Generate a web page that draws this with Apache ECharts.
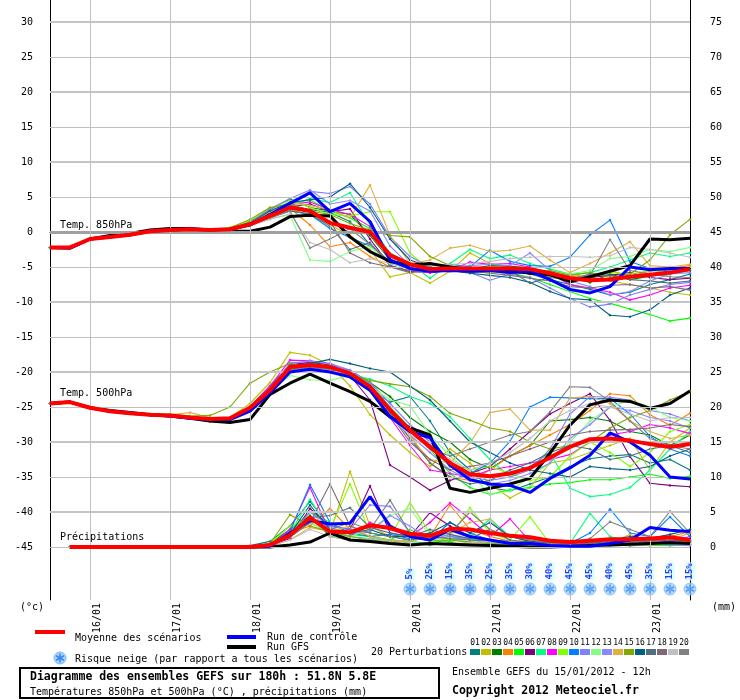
<!DOCTYPE html>
<html>
<head>
<meta charset="utf-8">
<script src="https://cdn.jsdelivr.net/npm/echarts@6/dist/echarts.min.js"></script>
<style>
  html, body { margin: 0; padding: 0; background: #fff; }
  #chart { width: 740px; height: 700px; }
</style>
</head>
<body>
<div id="chart"></div>
<script>
// hours since 15/01/2012 12h
const HOURS = [0,6,12,18,24,30,36,42,48,54,60,66,72,78,84,90,96,102,108,114,120,126,132,138,144,150,156,162,168,174,180,186,192];
const DAY_TICKS = [12,36,60,84,108,132,156,180];
const DAY_LABELS = ['16/01','17/01','18/01','19/01','20/01','21/01','22/01','23/01'];
const TEMP_TICKS = [-45,-40,-35,-30,-25,-20,-15,-10,-5,0,5,10,15,20,25,30];
const MM_TICKS = [0,5,10,15,20,25,30,35,40,45,50,55,60,65,70,75];
const MEMBER_NAMES = ['01','02','03','04','05','06','07','08','09','10','11','12','13','14','15','16','17','18','19','20'];
const MEMBER_COLORS = ['#008080','#c0c000','#008000','#ff8000','#00ff00','#800080','#00ff80','#ff00ff','#80ff00','#0080ff',
  '#8080ff','#80ff80','#8888ff','#e0b040','#80a800','#006080','#507080','#806878','#c0c0c0','#808080'];

// Temperature 850 hPa (°C)
const t850Mean = [-2.2,-2.2,-1.0,-0.7,-0.4,0.1,0.3,0.4,0.3,0.4, 1.1,2.3,3.5,3.0,1.3,0.6,0.0,-3.3,-4.6,-5.3, -5.2,-5.2,-5.2,-5.2,-5.3,-5.9,-6.6,-6.9,-6.8,-6.4, -6.1,-5.8,-5.3];
const t850Control = [-2.2,-2.3,-1.0,-0.7,-0.4,0.1,0.3,0.4,0.3,0.4, 1.0,2.5,4.1,5.6,2.9,4.1,1.5,-4.0,-5.2,-5.6, -5.5,-5.6,-5.5,-5.8,-5.6,-6.8,-8.2,-8.7,-7.8,-5.0, -5.4,-5.2,-5.2];
const t850Gfs = [-2.2,-2.3,-1.0,-0.5,-0.2,0.3,0.5,0.5,0.3,0.1, 0.1,0.7,2.2,2.4,2.3,-0.7,-2.8,-4.2,-4.7,-4.5, -5.0,-5.4,-5.4,-5.5,-5.9,-6.1,-7.1,-6.4,-5.6,-4.8, -1.0,-1.1,-0.9];
const t850Members = [
  [-2.2,-2.2,-1.1,-0.8,-0.3,0.2,0.3,0.4,0.2,0.5, 1.2,2.6,3.8,3.2,2.8,1.5,-1.8,-4.5,-5.2,-5.6, -5.4,-5.8,-5.6,-5.3,-6.0,-6.8,-7.5,-8.2,-9.0,-8.6, -7.5,-6.8,-6.0],
  [-2.2,-2.3,-1.0,-0.6,-0.4,0.0,0.2,0.6,0.3,0.4, 0.9,2.0,3.2,2.5,1.0,-0.5,-2.5,-6.4,-5.8,-7.3, -5.6,-3.0,-4.5,-5.0,-5.5,-6.2,-6.0,-6.5,-7.0,-7.5, -8.0,-8.6,-9.0],
  [-2.3,-2.2,-1.0,-0.7,-0.5,0.1,0.4,0.5,0.3,0.4, 1.5,3.2,4.7,3.5,3.0,2.5,-0.5,-4.0,-5.0,-5.2, -5.0,-5.3,-4.8,-4.9,-5.1,-5.8,-6.5,-7.2,-6.0,-6.8, -6.3,-6.0,-5.5],
  [-2.2,-2.2,-1.1,-0.8,-0.5,-0.1,0.3,0.2,0.2,0.3, 1.0,2.2,3.4,1.0,-2.1,-1.5,-3.5,-5.0,-5.5,-5.7, -5.5,-5.3,-5.1,-5.6,-5.8,-6.0,-6.3,-6.6,-5.5,-6.3, -5.6,-5.2,-4.8],
  [-2.2,-2.2,-1.0,-0.7,-0.4,0.2,0.3,0.4,0.3,0.5, 1.3,2.8,4.0,4.6,3.0,2.0,0.5,-3.5,-5.0,-5.5, -5.6,-5.4,-5.5,-5.8,-6.5,-7.5,-8.5,-9.5,-10.2,-11.0, -11.8,-12.7,-12.3],
  [-2.2,-2.2,-1.0,-0.6,-0.4,0.1,0.3,0.4,0.3,0.4, 1.2,2.6,3.6,4.0,2.9,3.3,-1.0,-4.8,-5.6,-5.8, -5.5,-5.2,-5.4,-5.0,-5.6,-6.2,-7.0,-6.5,-6.2,-5.8, -6.5,-6.8,-6.6],
  [-2.2,-2.2,-1.0,-0.7,-0.4,0.1,0.3,0.4,0.3,0.4, 1.1,2.4,3.8,4.8,4.2,5.6,1.0,-3.0,-4.5,-6.6, -4.5,-2.5,-3.8,-3.3,-4.5,-5.3,-6.0,-5.8,-5.0,-4.0, -3.0,-3.5,-3.0],
  [-2.2,-2.2,-1.0,-0.7,-0.3,0.1,0.4,0.3,0.3,0.4, 1.2,2.5,3.9,4.3,3.2,2.5,0.8,-3.8,-5.5,-5.8, -5.5,-4.3,-4.6,-4.5,-5.0,-6.0,-7.5,-8.0,-8.6,-9.7, -9.0,-8.0,-7.6],
  [-2.2,-2.2,-1.0,-0.7,-0.4,0.1,0.3,0.5,0.4,0.6, 1.6,3.4,4.5,3.5,2.5,2.3,2.9,2.9,-3.0,-5.5, -5.0,-5.5,-5.8,-5.4,-5.6,-6.3,-6.8,-6.5,-5.8,-6.0, -5.5,-5.8,-5.0],
  [-2.2,-2.2,-1.0,-0.7,-0.4,0.1,0.3,0.4,0.3,0.4, 1.0,2.2,3.0,2.5,0.5,-0.8,-2.0,-4.3,-5.0,-4.8, -4.6,-5.0,-2.6,-4.2,-4.8,-4.9,-3.6,-0.4,1.7,-4.2, -5.2,-5.6,-5.4],
  [-2.2,-2.2,-1.0,-0.7,-0.4,0.1,0.3,0.4,0.3,0.4, 1.3,3.0,4.3,5.8,5.5,6.5,4.0,-0.7,-3.5,-5.0, -5.5,-5.8,-6.9,-6.0,-6.5,-8.0,-9.5,-10.7,-10.3,-9.0, -8.2,-7.5,-7.2],
  [-2.2,-2.2,-1.0,-0.7,-0.4,0.1,0.3,0.4,0.3,0.4, 1.0,2.0,2.4,-4.0,-4.2,-2.8,-2.0,-4.5,-5.3,-5.6, -5.6,-5.2,-5.0,-5.1,-5.3,-5.6,-6.0,-5.5,-3.8,-3.5, -2.5,-2.8,-2.2],
  [-2.2,-2.2,-1.0,-0.7,-0.4,0.1,0.3,0.4,0.3,0.4, 1.4,3.3,4.8,6.0,4.0,4.5,3.0,-2.0,-4.8,-5.3, -5.0,-4.8,-4.6,-4.8,-3.0,-5.5,-7.0,-7.8,-9.0,-8.5, -7.0,-6.0,-5.8],
  [-2.2,-2.2,-1.0,-0.7,-0.4,0.1,0.3,0.4,0.3,0.4, 1.3,2.8,4.2,3.8,3.2,2.0,6.7,-0.5,-4.5,-4.0, -2.3,-1.9,-2.8,-2.6,-2.0,-4.0,-5.8,-4.5,-3.0,-1.4, -4.8,-5.0,-4.6],
  [-2.2,-2.2,-1.0,-0.6,-0.3,0.2,0.4,0.4,0.3,0.6, 1.8,3.5,4.0,3.0,2.5,1.2,0.3,-0.5,-0.7,-3.5, -4.8,-5.4,-5.6,-6.0,-5.8,-5.5,-6.2,-5.8,-6.5,-6.0, -4.0,-0.4,1.8],
  [-2.2,-2.2,-1.0,-0.7,-0.4,0.1,0.3,0.4,0.3,0.4, 1.3,3.0,4.2,4.6,5.0,6.9,3.5,-1.0,-4.0,-5.0, -5.5,-5.9,-6.2,-6.5,-7.2,-8.5,-9.5,-9.7,-11.9,-12.1, -11.1,-9.0,-8.0],
  [-2.2,-2.2,-1.0,-0.7,-0.4,0.1,0.3,0.4,0.3,0.4, 1.0,2.0,3.0,2.6,0.8,-2.5,-1.5,-4.8,-5.6,-5.4, -5.2,-5.1,-5.3,-5.5,-7.3,-6.5,-6.8,-6.0,-6.2,-6.8, -7.0,-7.3,-7.0],
  [-2.2,-2.2,-1.0,-0.7,-0.4,0.1,0.3,0.4,0.3,0.4, 1.1,2.4,3.3,3.0,1.5,-3.0,-4.4,-5.0,-5.8,-5.5, -5.3,-5.6,-5.9,-6.2,-6.6,-7.0,-7.8,-8.0,-7.6,-7.5, -8.0,-7.8,-8.3],
  [-2.2,-2.2,-1.0,-0.7,-0.4,0.1,0.3,0.4,0.3,0.4, 0.9,1.8,2.6,-1.5,-2.5,-4.4,-3.8,-4.5,-5.2,-4.8, -4.6,-4.5,-4.2,-3.8,-3.6,-3.5,-3.5,-3.6,-3.4,-2.2, -2.5,-3.0,-3.6],
  [-2.2,-2.2,-1.0,-0.7,-0.4,0.1,0.3,0.4,0.3,0.4, 1.0,2.1,3.0,-2.3,-1.0,0.5,-1.8,-4.2,-5.3,-5.6, -5.4,-5.5,-5.3,-5.6,-6.0,-6.4,-6.6,-6.2,-1.1,-5.5, -6.0,-6.4,-6.5]
];

// Temperature 500 hPa (°C)
const t500Mean = [-24.5,-24.3,-25.1,-25.6,-25.9,-26.1,-26.2,-26.5,-26.7,-26.6, -25.1,-22.6,-19.3,-19.0,-19.3,-20.2,-22.1,-25.4,-28.3,-30.7, -33.0,-34.6,-34.9,-34.5,-33.7,-32.2,-30.7,-29.6,-29.5,-29.8, -30.3,-30.7,-30.3];
const t500Control = [-24.5,-24.3,-25.1,-25.6,-25.9,-26.1,-26.3,-26.6,-26.8,-26.8, -25.6,-23.0,-20.0,-19.6,-20.0,-20.7,-22.6,-26.4,-28.5,-29.4, -33.3,-35.4,-36.0,-36.2,-37.2,-35.2,-33.7,-31.9,-28.7,-30.0, -31.9,-35.0,-35.3];
const t500Gfs = [-24.5,-24.3,-25.1,-25.5,-25.8,-26.1,-26.3,-26.6,-27.0,-27.2, -26.8,-23.2,-21.6,-20.3,-21.6,-22.8,-24.2,-26.4,-28.0,-29.0, -36.6,-37.2,-36.6,-36.0,-35.2,-31.6,-27.6,-24.7,-24.0,-24.2, -25.2,-24.5,-22.7];
const t500Members = [
  [-24.5,-24.3,-25.1,-25.6,-25.9,-26.1,-26.2,-26.5,-26.8,-26.7, -25.2,-22.5,-19.5,-19.0,-19.5,-20.5,-22.5,-24.3,-23.5,-27.0, -31.5,-34.0,-36.5,-37.0,-36.0,-35.0,-33.5,-32.4,-32.0,-31.8, -33.0,-32.5,-34.0],
  [-24.5,-24.3,-25.1,-25.6,-25.9,-26.1,-26.2,-26.4,-26.6,-26.5, -24.5,-21.5,-17.2,-17.6,-19.0,-22.0,-26.1,-29.0,-31.5,-33.5, -31.0,-33.0,-36.0,-38.0,-36.5,-33.0,-32.5,-31.5,-30.5,-29.5, -34.0,-30.0,-28.0],
  [-24.5,-24.3,-25.1,-25.6,-25.9,-26.1,-26.2,-26.5,-26.7,-26.6, -25.0,-22.0,-19.0,-18.6,-19.0,-19.8,-21.5,-23.5,-26.5,-28.5, -30.0,-32.5,-33.8,-32.0,-30.5,-27.0,-26.8,-26.5,-27.0,-28.5, -29.0,-30.5,-29.0],
  [-24.5,-24.3,-25.1,-25.6,-25.9,-26.1,-26.2,-26.5,-26.7,-26.6, -25.3,-22.8,-19.6,-19.3,-20.0,-20.8,-22.4,-26.0,-29.0,-33.0, -35.0,-35.5,-34.0,-32.0,-30.5,-29.0,-27.5,-25.5,-23.1,-23.4, -26.1,-27.6,-25.9],
  [-24.5,-24.3,-25.1,-25.6,-25.9,-26.1,-26.2,-26.5,-26.7,-26.6, -25.1,-22.4,-19.2,-18.8,-19.2,-20.0,-21.6,-25.0,-28.0,-31.0, -34.5,-36.5,-37.5,-36.8,-36.5,-36.0,-35.8,-35.4,-35.4,-35.0, -34.6,-35.2,-34.9],
  [-24.5,-24.3,-25.1,-25.6,-25.9,-26.1,-26.2,-26.5,-26.7,-26.6, -25.0,-22.2,-19.0,-18.6,-18.9,-20.5,-24.0,-33.3,-35.0,-36.9, -35.5,-34.5,-33.5,-31.0,-28.5,-26.0,-24.5,-23.1,-26.9,-32.1, -35.9,-36.2,-36.4],
  [-24.5,-24.3,-25.1,-25.6,-25.9,-26.1,-26.2,-26.5,-26.7,-26.6, -25.2,-22.6,-19.4,-19.0,-19.3,-20.3,-21.0,-22.0,-23.5,-24.5, -26.4,-29.5,-32.5,-35.0,-33.5,-31.5,-36.6,-37.8,-37.5,-36.5, -34.0,-31.0,-28.5],
  [-24.5,-24.3,-25.1,-25.6,-25.9,-26.1,-26.2,-26.5,-26.7,-26.6, -25.0,-22.0,-18.3,-18.4,-18.8,-20.0,-22.5,-26.5,-30.5,-34.0, -34.5,-35.0,-34.0,-33.5,-33.0,-32.5,-31.8,-30.0,-29.0,-28.5, -27.5,-28.0,-28.8],
  [-24.5,-24.3,-25.1,-25.6,-25.9,-26.1,-26.2,-26.5,-26.7,-26.6, -25.3,-22.7,-19.5,-19.2,-19.5,-20.2,-22.0,-25.5,-28.5,-30.5, -33.0,-34.0,-33.5,-34.5,-35.5,-35.0,-32.0,-30.0,-31.5,-33.5, -31.5,-28.5,-27.5],
  [-24.5,-24.3,-25.1,-25.6,-25.9,-26.1,-26.2,-26.5,-26.7,-26.6, -25.5,-23.2,-19.8,-19.4,-19.6,-20.5,-22.5,-25.5,-28.0,-30.5, -33.5,-34.5,-33.0,-29.9,-25.0,-23.6,-23.7,-23.8,-23.8,-26.0, -29.2,-31.0,-32.0],
  [-24.5,-24.3,-25.1,-25.6,-25.9,-26.1,-26.2,-26.5,-26.7,-26.6, -25.2,-22.5,-18.7,-18.5,-18.8,-19.7,-21.5,-24.5,-27.5,-30.0, -33.0,-35.0,-35.5,-35.0,-34.0,-31.0,-26.0,-23.5,-23.6,-24.0, -25.5,-26.0,-27.0],
  [-24.5,-24.3,-25.1,-25.6,-25.9,-26.1,-26.2,-26.5,-26.7,-26.6, -25.4,-22.9,-20.5,-21.1,-21.2,-20.5,-22.0,-24.0,-24.8,-29.0, -32.0,-34.5,-37.5,-37.0,-35.0,-33.0,-30.0,-27.0,-25.0,-24.0, -25.0,-26.5,-27.0],
  [-24.5,-24.3,-25.1,-25.6,-25.9,-26.1,-26.2,-26.5,-26.7,-26.6, -25.1,-22.3,-18.8,-18.4,-18.9,-19.9,-21.8,-25.0,-29.0,-31.5, -34.0,-35.5,-36.0,-35.5,-34.5,-33.0,-29.5,-27.5,-25.0,-25.5, -26.5,-27.0,-28.0],
  [-24.5,-24.3,-25.0,-25.5,-25.9,-26.0,-26.1,-25.8,-26.5,-26.6, -25.1,-22.4,-19.3,-19.0,-19.6,-20.6,-22.3,-26.0,-29.5,-32.5, -33.0,-30.1,-25.8,-25.3,-28.3,-28.3,-23.7,-23.5,-24.5,-27.0, -28.5,-29.5,-29.0],
  [-24.5,-24.3,-25.1,-25.6,-25.8,-26.0,-26.0,-26.3,-26.2,-25.0, -21.6,-20.0,-18.8,-19.2,-19.7,-20.4,-21.2,-21.7,-22.1,-23.5, -25.9,-26.9,-28.0,-28.5,-30.0,-31.0,-30.5,-30.0,-28.0,-26.5, -25.5,-24.0,-22.8],
  [-24.5,-24.3,-25.1,-25.6,-25.9,-26.1,-26.2,-26.5,-26.7,-26.6, -25.2,-22.4,-19.2,-18.8,-18.2,-18.8,-19.5,-20.0,-22.0,-24.0, -27.0,-30.0,-31.5,-33.0,-34.0,-34.5,-35.0,-33.5,-33.8,-34.0, -33.5,-32.0,-31.0],
  [-24.5,-24.3,-25.1,-25.6,-25.9,-26.1,-26.2,-26.5,-26.7,-26.6, -25.3,-22.8,-19.6,-19.2,-19.5,-20.3,-22.2,-25.8,-29.5,-33.0, -35.0,-36.0,-35.5,-34.0,-33.0,-31.5,-30.5,-31.0,-32.5,-32.0, -31.0,-30.5,-31.5],
  [-24.5,-24.3,-25.1,-25.6,-25.9,-26.1,-26.2,-26.5,-26.7,-26.6, -25.2,-22.6,-19.4,-19.0,-19.4,-20.4,-22.4,-26.0,-30.0,-32.5, -34.0,-33.5,-33.0,-32.0,-31.0,-30.0,-29.0,-28.5,-28.3,-28.2, -28.0,-27.5,-27.8],
  [-24.5,-24.3,-25.1,-25.6,-25.9,-26.1,-26.3,-26.6,-27.1,-26.9, -25.5,-23.0,-19.8,-19.5,-19.8,-20.8,-22.8,-26.5,-29.0,-30.5, -32.5,-34.0,-33.0,-31.5,-29.5,-27.0,-25.5,-24.5,-25.0,-26.0, -27.0,-26.5,-26.5],
  [-24.5,-24.3,-25.1,-25.6,-25.9,-26.1,-26.3,-26.6,-27.1,-26.8, -25.3,-22.9,-19.7,-19.3,-19.6,-20.5,-22.3,-25.5,-28.5,-31.0, -32.0,-31.0,-30.0,-29.0,-28.5,-25.7,-22.1,-22.2,-24.2,-27.0, -29.5,-30.5,-31.0]
];

// Precipitation (mm per 6h), from +6h
const RAIN_HOURS = HOURS.slice(1);
const rainMean = [0,0,0,0,0,0,0,0,0,0, 0.3,1.7,4.2,2.2,2.1,3.1,2.7,1.9,1.6,2.6, 2.5,2.0,1.6,1.4,0.9,0.7,0.9,1.1,1.1,1.2, 1.4,1.0];
const rainControl = [0,0,0,0,0,0,0,0,0,0, 0.1,2.0,3.8,3.3,3.4,7.2,3.0,1.5,1.0,2.5, 1.5,1.0,0.5,0.5,0.2,0.1,0.1,0.5,1.0,2.8, 2.4,2.2];
const rainGfs = [0,0,0,0,0,0,0,0,0,0, 0,0.3,0.7,2.0,1.0,0.8,0.5,0.3,0.5,0.4, 0.3,0.2,0.1,0.0,0.0,0.1,0.2,0.3,0.4,0.5, 0.6,0.5];
const rainMembers = [
  [0,0,0,0,0,0,0,0,0,0.2, 0.8,3.0,6.5,3.0,2.5,2.0,1.5,1.0,2.0,1.5, 1.2,1.0,0.5,0.8,0.3,0.2,0.5,0.8,1.0,0.6, 1.5,0.8],
  [0,0,0,0,0,0,0,0,0,0, 0.2,1.5,3.5,2.0,10.8,3.0,1.5,2.0,0.8,1.2, 0.5,0.3,0.5,0.2,0.1,0.1,0.3,0.5,0.5,0.2, 0.4,0.3],
  [0,0,0,0,0,0,0,0,0,0, 0.5,2.5,4.5,1.5,1.0,1.2,0.8,0.5,0.3,0.6, 0.4,0.3,0.2,0.3,0.1,0.1,0.2,0.3,0.2,0.3, 0.5,0.4],
  [0,0,0,0,0,0,0,0,0,0, 0.3,2.0,3.0,5.5,2.5,1.5,1.0,0.8,1.5,6.0, 2.5,1.5,0.8,0.5,0.3,0.2,0.3,0.5,1.2,0.8, 1.5,2.2],
  [0,0,0,0,0,0,0,0,0,0, 0.4,2.2,5.0,3.5,1.8,1.5,1.0,2.5,1.0,0.8, 1.2,0.6,0.5,0.3,0.2,0.2,0.4,0.6,0.4,0.3, 0.2,0.3],
  [0,0,0,0,0,0,0,0,0,0, 0.2,1.2,5.5,3.0,2.5,8.7,2.0,1.5,4.9,3.0, 1.5,1.0,0.5,0.8,0.6,0.5,0.8,1.0,1.2,0.9, 0.8,1.0],
  [0,0,0,0,0,0,0,0,0,0, 0.3,2.0,6.8,2.5,1.5,1.2,1.0,0.8,0.5,1.0, 1.5,4.0,1.5,0.8,0.3,0.5,4.8,1.5,0.8,0.6, 0.5,1.0],
  [0,0,0,0,0,0,0,0,0,0, 0.2,2.5,8.5,2.0,1.5,3.5,2.5,1.5,3.5,6.3, 4.0,1.5,4.0,0.8,0.3,0.2,0.2,0.3,0.5,0.6, 0.8,1.5],
  [0,0,0,0,0,0,0,0,0,0, 0.5,3.0,4.0,2.5,9.0,2.0,1.5,6.3,2.0,1.5, 5.6,2.0,1.0,4.3,0.5,0.3,0.4,0.3,0.5,0.4, 0.6,0.8],
  [0,0,0,0,0,0,0,0,0,0, 0.3,2.2,8.9,3.5,2.0,1.5,1.8,1.2,1.0,3.5, 2.0,1.0,0.8,0.5,0.2,0.5,2.0,5.4,2.0,1.5, 4.3,1.5],
  [0,0,0,0,0,0,0,0,0,0, 0.2,1.8,5.0,3.0,2.5,6.0,5.8,2.0,1.0,1.5, 1.0,0.8,0.6,0.4,0.3,0.2,0.3,0.5,0.6,0.5, 0.4,0.5],
  [0,0,0,0,0,0,0,0,0,0, 0.3,1.5,3.5,2.0,1.5,2.5,4.5,5.5,1.5,1.0, 0.8,0.5,0.4,0.3,0.2,0.3,0.2,0.2,0.3,0.4, 0.6,0.5],
  [0,0,0,0,0,0,0,0,0,0, 0.2,1.6,4.0,2.8,2.0,2.2,4.5,3.0,1.0,1.8, 1.0,0.6,0.4,0.3,0.3,0.2,0.2,0.3,0.5,0.4, 0.3,0.2],
  [0,0,0,0,0,0,0,0,0,0, 0.1,1.0,2.8,2.2,3.0,1.5,1.0,0.8,1.5,2.0, 3.5,4.0,0.8,1.0,0.5,0.2,0.4,0.6,1.8,0.8, 1.0,2.0],
  [0,0,0,0,0,0,0,0,0,0, 0.5,4.6,3.0,2.2,1.5,1.0,0.8,0.5,0.6,1.0, 0.7,0.5,0.3,0.2,0.1,0.1,0.2,0.3,0.4,0.3, 0.5,0.6],
  [0,0,0,0,0,0,0,0,0,0, 0.2,1.8,6.0,2.5,2.0,2.5,1.5,1.5,2.0,3.5, 2.0,3.5,1.5,0.8,0.6,0.5,0.8,1.0,1.5,1.2, 1.8,2.5],
  [0,0,0,0,0,0,0,0,0,0, 0.3,2.0,4.2,4.5,5.6,2.8,2.0,1.5,2.5,1.8, 1.2,2.5,1.0,0.6,0.4,0.3,0.5,0.6,0.8,1.0, 0.9,0.8],
  [0,0,0,0,0,0,0,0,0,0, 0.2,1.4,3.5,9.0,3.0,2.0,1.5,1.0,1.5,1.2, 1.0,0.8,0.6,0.5,0.4,0.3,0.6,0.8,0.7,0.8, 1.2,1.0],
  [0,0,0,0,0,0,0,0,0,0, 0.1,1.0,2.5,1.5,1.0,1.2,0.8,0.5,0.4,0.5, 0.6,0.8,0.4,0.3,0.2,0.2,0.3,0.4,0.3,0.3, 0.5,0.4],
  [0,0,0,0,0,0,0,0,0,0, 0.2,1.5,3.8,2.5,3.5,2.5,6.7,2.0,1.5,2.0, 5.0,2.5,1.5,1.0,0.6,0.5,1.2,3.6,2.5,1.5, 5.1,2.0]
];

// snow risk (% of scenarios)
const SNOW_HOURS = [108,114,120,126,132,138,144,150,156,162,168,174,180,186,192];
const SNOW_RISK = [5,25,15,35,25,35,30,40,45,45,40,45,35,15,15];

// plot area is 0..600px high at 7px per degree, 30 at y=22
const Y_MAX = 30 + 22 / 7;
const Y_MIN = -45 - 53 / 7;
const SNOW_ROW = -51.0;
const FONT = '"DejaVu Sans Mono", monospace';

// snowflake: three crossed bars and a small hexagon, in a -10..10 box
const FLAKE_PARTS = [
  [[-1.6, 10], [1.6, 10], [1.6, -10], [-1.6, -10]],
  [[7.86, 6.39], [9.46, 3.61], [-7.86, -6.39], [-9.46, -3.61]],
  [[-9.46, 3.61], [-7.86, 6.39], [9.46, -3.61], [7.86, -6.39]],
  [[0, -3.5], [3, -1.75], [3, 1.75], [0, 3.5], [-3, 1.75], [-3, -1.75]]
];
const SNOWFLAKE = 'path://' + FLAKE_PARTS.map(p => 'M' + p.map(q => q.join(',')).join('L') + 'Z').join(' ');

const pair = (hours, vals) => vals.map((v, i) => [hours[i], v]);

function memberSeries(vals, color, hours, axis) {
  return {
    type: 'line', yAxisIndex: axis, data: pair(hours, vals),
    symbol: 'diamond', symbolSize: 3, showSymbol: true,
    lineStyle: { width: 1.1, color: color }, itemStyle: { color: color },
    silent: true, z: 3
  };
}
function mainSeries(vals, color, width, hours, axis, z) {
  return {
    type: 'line', yAxisIndex: axis, data: pair(hours, vals),
    showSymbol: false, lineStyle: { width: width, color: color },
    silent: true, z: z
  };
}

const series = [];

// grid lines drawn as mark lines so each level can have its own weight
const gridLines = [];
TEMP_TICKS.forEach(v => {
  let style = { color: '#c0c0c0', width: 1, type: 'solid' };
  if (v === 0) style = { color: '#a0a0a0', width: 3, type: 'solid' };
  else if (v % 10 === 0) style = { color: '#c4c4c4', width: 2, type: 'solid' };
  gridLines.push({ yAxis: v, lineStyle: style });
});
DAY_TICKS.forEach(h => {
  gridLines.push({ xAxis: h, lineStyle: { color: '#c0c0c0', width: 1, type: 'solid' } });
});
series.push({
  type: 'line', data: [], z: 1, silent: true,
  markLine: { silent: true, symbol: 'none', animation: false, label: { show: false }, data: gridLines }
});

t850Members.forEach((m, i) => series.push(memberSeries(m, MEMBER_COLORS[i], HOURS, 0)));
t500Members.forEach((m, i) => series.push(memberSeries(m, MEMBER_COLORS[i], HOURS, 0)));
rainMembers.forEach((m, i) => series.push(memberSeries(m, MEMBER_COLORS[i], RAIN_HOURS, 1)));

series.push(mainSeries(t850Gfs, '#000000', 3, HOURS, 0, 4));
series.push(mainSeries(t500Gfs, '#000000', 3, HOURS, 0, 4));
series.push(mainSeries(rainGfs, '#000000', 3, RAIN_HOURS, 1, 4));
series.push(mainSeries(t850Control, '#0000ff', 3, HOURS, 0, 5));
series.push(mainSeries(t500Control, '#0000ff', 3, HOURS, 0, 5));
series.push(mainSeries(rainControl, '#0000ff', 3, RAIN_HOURS, 1, 5));
series.push(mainSeries(t850Mean, '#ff0000', 4, HOURS, 0, 6));
series.push(mainSeries(t500Mean, '#ff0000', 4, HOURS, 0, 6));
series.push(mainSeries(rainMean, '#ff0000', 4, RAIN_HOURS, 1, 6));

// snow risk: round light-blue badge, flake drawn on top, percentage above
series.push({
  type: 'scatter', yAxisIndex: 0, z: 7, silent: true,
  data: SNOW_HOURS.map(h => [h, SNOW_ROW]),
  symbol: 'circle', symbolSize: 12,
  itemStyle: { color: '#9fd4ff', borderColor: '#7fb8f0', borderWidth: 1 },
  label: {
    show: true, position: 'top', distance: 2, rotate: 90,
    align: 'left', verticalAlign: 'middle',
    formatter: p => SNOW_RISK[p.dataIndex] + '%',
    color: '#0000ff', fontFamily: FONT, fontSize: 9, fontWeight: 'bold',
    backgroundColor: '#ccffff', padding: [0, 1, 0, 1]
  }
});
series.push({
  type: 'scatter', yAxisIndex: 0, z: 8, silent: true,
  data: SNOW_HOURS.map(h => [h, SNOW_ROW]),
  symbol: SNOWFLAKE, symbolSize: 9,
  itemStyle: { color: '#3c86f0' }
});

// legend and captions
const txt = (x, y, text, size, bold, extra) => Object.assign({
  type: 'text', x: x, y: y, z: 10,
  style: { text: text, fill: '#000', font: (bold ? 'bold ' : '') + size + 'px ' + FONT, verticalAlign: 'middle' }
}, extra || {});
const legendFlake = {
  type: 'group', x: 60, y: 658, z: 10,
  children: [{ type: 'circle', shape: { cx: 0, cy: 0, r: 6 }, style: { fill: '#9fd4ff', stroke: '#7fb8f0', lineWidth: 1 } }]
    .concat(FLAKE_PARTS.map(p => ({
      type: 'polygon', shape: { points: p.map(q => [q[0] * 0.45, q[1] * 0.45]) }, style: { fill: '#3c86f0' }
    })))
};
const graphics = [
  txt(60, 225, 'Temp. 850hPa', 10),
  txt(60, 393, 'Temp. 500hPa', 10),
  txt(60, 537, 'Précipitations', 10),
  txt(20, 607, '(°c)', 10),
  txt(712, 607, '(mm)', 10),
  { type: 'line', z: 10, shape: { x1: 35, y1: 632, x2: 65, y2: 632 }, style: { stroke: '#ff0000', lineWidth: 4 } },
  txt(75, 638, 'Moyenne des scénarios', 10),
  { type: 'line', z: 10, shape: { x1: 227, y1: 637, x2: 256, y2: 637 }, style: { stroke: '#0000ff', lineWidth: 4 } },
  txt(267, 637, 'Run de contrôle', 10),
  { type: 'line', z: 10, shape: { x1: 227, y1: 647, x2: 256, y2: 647 }, style: { stroke: '#000000', lineWidth: 4 } },
  txt(267, 647, 'Run GFS', 10),
  legendFlake,
  txt(75, 659, 'Risque neige (par rapport a tous les scénarios)', 10),
  txt(371, 652, '20 Perturbations', 10),
  { type: 'rect', z: 10, shape: { x: 20, y: 668, width: 419, height: 30 }, style: { fill: '#fff', stroke: '#000', lineWidth: 2 } },
  txt(30, 677, 'Diagramme des ensembles GEFS sur 180h : 51.8N 5.8E', 11.5, true, { z: 11 }),
  txt(30, 692, 'Températures 850hPa et 500hPa (°C) , précipitations (mm)', 10, false, { z: 11 }),
  txt(452, 672, 'Ensemble GEFS du 15/01/2012 - 12h', 10),
  txt(452, 691, 'Copyright 2012 Meteociel.fr', 11.5, true)
];
MEMBER_COLORS.forEach((c, i) => {
  graphics.push({ type: 'rect', z: 10, shape: { x: 470 + i * 11, y: 649, width: 10, height: 6 }, style: { fill: c } });
  graphics.push({ type: 'text', x: 475 + i * 11, y: 643, z: 10, style: {
    text: MEMBER_NAMES[i], fill: '#000', font: '8px ' + FONT, align: 'center', verticalAlign: 'middle' } });
});

const chart = echarts.init(document.getElementById('chart'), null, { renderer: 'canvas' });
chart.setOption({
  animation: false,
  backgroundColor: '#ffffff',
  grid: { left: 50, right: 50, top: 0, bottom: 100 },
  xAxis: {
    type: 'value', min: 0, max: 192,
    axisLine: { show: true, lineStyle: { color: '#000', width: 1 } },
    axisTick: { show: false },
    splitLine: { show: false },
    axisLabel: {
      customValues: DAY_TICKS, rotate: 90, margin: 3,
      verticalAlign: 'top', lineHeight: 14,
      formatter: v => DAY_LABELS[DAY_TICKS.indexOf(v)] || '',
      color: '#000', fontFamily: FONT, fontSize: 10
    }
  },
  yAxis: [
    {
      type: 'value', min: Y_MIN, max: Y_MAX, position: 'left',
      axisLine: { show: true, lineStyle: { color: '#000', width: 1 } },
      axisTick: { show: false }, splitLine: { show: false },
      axisLabel: { customValues: TEMP_TICKS, margin: 17, color: '#000', fontFamily: FONT, fontSize: 10 }
    },
    {
      type: 'value', min: Y_MIN + 45, max: Y_MAX + 45, position: 'right',
      axisLine: { show: true, lineStyle: { color: '#000', width: 1 } },
      axisTick: { show: false }, splitLine: { show: false },
      axisLabel: { customValues: MM_TICKS, margin: 20, color: '#000', fontFamily: FONT, fontSize: 10 }
    }
  ],
  series: series,
  graphic: { elements: graphics }
});
</script>
</body>
</html>
